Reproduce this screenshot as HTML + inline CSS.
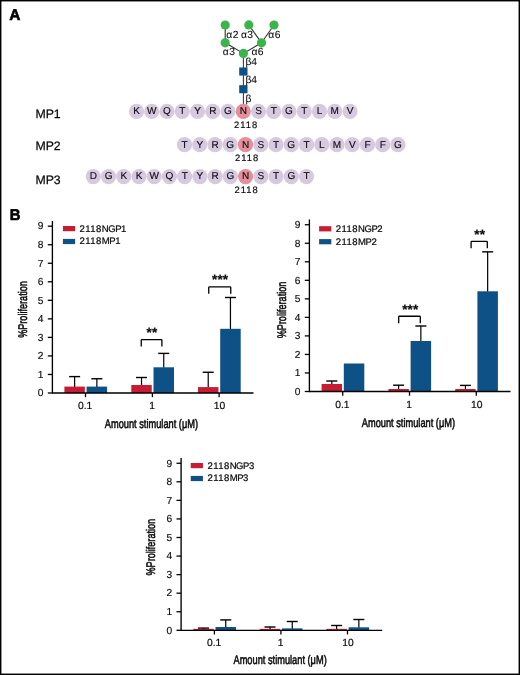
<!DOCTYPE html>
<html lang="en"><head><meta charset="utf-8"><title>Figure</title>
<style>
html,body{margin:0;padding:0;background:#fff;}
body{width:520px;height:675px;overflow:hidden;}
svg{display:block;}
text{font-family:"Liberation Sans",sans-serif;text-rendering:geometricPrecision;fill:#0a0a0a;stroke:#0a0a0a;stroke-width:0.3px;stroke-linejoin:round;}
.aa{font-size:10px;text-anchor:middle;stroke-width:0.12px;}
.num{font-size:9.4px;text-anchor:middle;letter-spacing:1px;stroke-width:0.18px;}
.gl{font-size:10.3px;stroke-width:0.08px;}
.mp{font-size:12.3px;stroke-width:0.25px;}
.pl{font-size:15.5px;font-weight:bold;fill:#000;stroke:#000;stroke-width:0.6px;}
.tk{font-size:10.2px;text-anchor:end;stroke-width:0.15px;}
.xt{font-size:10.3px;text-anchor:middle;stroke-width:0.2px;}
.lg{font-size:9.5px;stroke-width:0.22px;}
.ax{font-size:12.5px;text-anchor:middle;stroke-width:0.55px;}
.st{font-size:13.5px;text-anchor:middle;font-weight:bold;stroke-width:0.2px;letter-spacing:0.15px;}
</style></head><body>
<svg width="520" height="675" viewBox="0 0 520 675">
<rect x="0" y="0" width="520" height="675" fill="#fff"/>
<rect x="0.72" y="0.72" width="518.56" height="673.56" fill="none" stroke="#000" stroke-width="1.44"/>
<text class="pl" transform="translate(9.35 20.2) scale(1 1)">A</text>
<text class="pl" transform="translate(9.8 219.8) scale(0.96 1)">B</text>
<line x1="225.2" y1="25" x2="225.2" y2="42.8" stroke="#2a2a2a" stroke-width="1.05"/>
<line x1="225.2" y1="42.8" x2="243.4" y2="53.4" stroke="#2a2a2a" stroke-width="1.05"/>
<line x1="243.4" y1="53.4" x2="261.5" y2="42.8" stroke="#2a2a2a" stroke-width="1.05"/>
<line x1="261.5" y1="42.8" x2="248.8" y2="24.9" stroke="#2a2a2a" stroke-width="1.05"/>
<line x1="261.5" y1="42.8" x2="274" y2="25" stroke="#2a2a2a" stroke-width="1.05"/>
<line x1="243.4" y1="53.1" x2="243.4" y2="111" stroke="#333" stroke-width="1.05"/>
<circle cx="225.2" cy="25" r="4.6" fill="#3ab54a"/>
<circle cx="248.8" cy="24.9" r="4.6" fill="#3ab54a"/>
<circle cx="274" cy="25" r="4.6" fill="#3ab54a"/>
<circle cx="225.2" cy="42.8" r="4.6" fill="#3ab54a"/>
<circle cx="261.5" cy="42.8" r="4.6" fill="#3ab54a"/>
<circle cx="243.4" cy="53.4" r="4.6" fill="#3ab54a"/>
<rect x="239.2" y="67.45" width="8.3" height="8.1" fill="#0e5186"/>
<rect x="239.2" y="85.15" width="8.3" height="8.1" fill="#0e5186"/>
<text class="gl" x="226.3" y="37.7" letter-spacing="0.5">α2</text>
<text class="gl" x="240.9" y="37.7" letter-spacing="0.5">α3</text>
<text class="gl" x="268.3" y="37.7" letter-spacing="0.5">α6</text>
<text class="gl" x="222.7" y="55.3" letter-spacing="0.5">α3</text>
<text class="gl" x="251.4" y="55.3" letter-spacing="0.5">α6</text>
<text class="gl" x="245.4" y="65">β4</text>
<text class="gl" x="245.4" y="82.8">β4</text>
<text class="gl" x="245.4" y="101.5">β</text>
<text class="mp" x="35.4" y="118.2">MP1</text>
<circle cx="136.5" cy="111.4" r="7.6" fill="#d6c9e0"/>
<circle cx="151.75" cy="111.4" r="7.6" fill="#d6c9e0"/>
<circle cx="167" cy="111.4" r="7.6" fill="#d6c9e0"/>
<circle cx="182.25" cy="111.4" r="7.6" fill="#d6c9e0"/>
<circle cx="197.5" cy="111.4" r="7.6" fill="#d6c9e0"/>
<circle cx="212.75" cy="111.4" r="7.6" fill="#d6c9e0"/>
<circle cx="228" cy="111.4" r="7.6" fill="#d6c9e0"/>
<circle cx="243.25" cy="111.4" r="7.6" fill="#e58f9b"/>
<circle cx="258.5" cy="111.4" r="7.6" fill="#d6c9e0"/>
<circle cx="273.75" cy="111.4" r="7.6" fill="#d6c9e0"/>
<circle cx="289" cy="111.4" r="7.6" fill="#d6c9e0"/>
<circle cx="304.25" cy="111.4" r="7.6" fill="#d6c9e0"/>
<circle cx="319.5" cy="111.4" r="7.6" fill="#d6c9e0"/>
<circle cx="334.75" cy="111.4" r="7.6" fill="#d6c9e0"/>
<circle cx="350" cy="111.4" r="7.6" fill="#d6c9e0"/>
<text class="aa" x="136.5" y="114.3">K</text>
<text class="aa" x="151.75" y="114.3">W</text>
<text class="aa" x="167" y="114.3">Q</text>
<text class="aa" x="182.25" y="114.3">T</text>
<text class="aa" x="197.5" y="114.3">Y</text>
<text class="aa" x="212.75" y="114.3">R</text>
<text class="aa" x="228" y="114.3">G</text>
<text class="aa" x="243.25" y="114.3">N</text>
<text class="aa" x="258.5" y="114.3">S</text>
<text class="aa" x="273.75" y="114.3">T</text>
<text class="aa" x="289" y="114.3">G</text>
<text class="aa" x="304.25" y="114.3">T</text>
<text class="aa" x="319.5" y="114.3">L</text>
<text class="aa" x="334.75" y="114.3">M</text>
<text class="aa" x="350" y="114.3">V</text>
<text class="num" x="246.1" y="128.4">2118</text>
<text class="mp" x="35.4" y="149.8">MP2</text>
<circle cx="184.5" cy="144.7" r="7.6" fill="#d6c9e0"/>
<circle cx="199.75" cy="144.7" r="7.6" fill="#d6c9e0"/>
<circle cx="215" cy="144.7" r="7.6" fill="#d6c9e0"/>
<circle cx="230.25" cy="144.7" r="7.6" fill="#d6c9e0"/>
<circle cx="245.5" cy="144.7" r="7.6" fill="#e58f9b"/>
<circle cx="260.75" cy="144.7" r="7.6" fill="#d6c9e0"/>
<circle cx="276" cy="144.7" r="7.6" fill="#d6c9e0"/>
<circle cx="291.25" cy="144.7" r="7.6" fill="#d6c9e0"/>
<circle cx="306.5" cy="144.7" r="7.6" fill="#d6c9e0"/>
<circle cx="321.75" cy="144.7" r="7.6" fill="#d6c9e0"/>
<circle cx="337" cy="144.7" r="7.6" fill="#d6c9e0"/>
<circle cx="352.25" cy="144.7" r="7.6" fill="#d6c9e0"/>
<circle cx="367.5" cy="144.7" r="7.6" fill="#d6c9e0"/>
<circle cx="382.75" cy="144.7" r="7.6" fill="#d6c9e0"/>
<circle cx="398" cy="144.7" r="7.6" fill="#d6c9e0"/>
<text class="aa" x="184.5" y="147.6">T</text>
<text class="aa" x="199.75" y="147.6">Y</text>
<text class="aa" x="215" y="147.6">R</text>
<text class="aa" x="230.25" y="147.6">G</text>
<text class="aa" x="245.5" y="147.6">N</text>
<text class="aa" x="260.75" y="147.6">S</text>
<text class="aa" x="276" y="147.6">T</text>
<text class="aa" x="291.25" y="147.6">G</text>
<text class="aa" x="306.5" y="147.6">T</text>
<text class="aa" x="321.75" y="147.6">L</text>
<text class="aa" x="337" y="147.6">M</text>
<text class="aa" x="352.25" y="147.6">V</text>
<text class="aa" x="367.5" y="147.6">F</text>
<text class="aa" x="382.75" y="147.6">F</text>
<text class="aa" x="398" y="147.6">G</text>
<text class="num" x="247.1" y="161.3">2118</text>
<text class="mp" x="35.4" y="183.5">MP3</text>
<circle cx="93.3" cy="176.55" r="7.6" fill="#d6c9e0"/>
<circle cx="108.53" cy="176.55" r="7.6" fill="#d6c9e0"/>
<circle cx="123.76" cy="176.55" r="7.6" fill="#d6c9e0"/>
<circle cx="138.99" cy="176.55" r="7.6" fill="#d6c9e0"/>
<circle cx="154.22" cy="176.55" r="7.6" fill="#d6c9e0"/>
<circle cx="169.45" cy="176.55" r="7.6" fill="#d6c9e0"/>
<circle cx="184.68" cy="176.55" r="7.6" fill="#d6c9e0"/>
<circle cx="199.91" cy="176.55" r="7.6" fill="#d6c9e0"/>
<circle cx="215.14" cy="176.55" r="7.6" fill="#d6c9e0"/>
<circle cx="230.37" cy="176.55" r="7.6" fill="#d6c9e0"/>
<circle cx="245.6" cy="176.55" r="7.6" fill="#e58f9b"/>
<circle cx="260.83" cy="176.55" r="7.6" fill="#d6c9e0"/>
<circle cx="276.06" cy="176.55" r="7.6" fill="#d6c9e0"/>
<circle cx="291.29" cy="176.55" r="7.6" fill="#d6c9e0"/>
<circle cx="306.52" cy="176.55" r="7.6" fill="#d6c9e0"/>
<text class="aa" x="93.3" y="179.45">D</text>
<text class="aa" x="108.53" y="179.45">G</text>
<text class="aa" x="123.76" y="179.45">K</text>
<text class="aa" x="138.99" y="179.45">K</text>
<text class="aa" x="154.22" y="179.45">W</text>
<text class="aa" x="169.45" y="179.45">Q</text>
<text class="aa" x="184.68" y="179.45">T</text>
<text class="aa" x="199.91" y="179.45">Y</text>
<text class="aa" x="215.14" y="179.45">R</text>
<text class="aa" x="230.37" y="179.45">G</text>
<text class="aa" x="245.6" y="179.45">N</text>
<text class="aa" x="260.83" y="179.45">S</text>
<text class="aa" x="276.06" y="179.45">T</text>
<text class="aa" x="291.29" y="179.45">G</text>
<text class="aa" x="306.52" y="179.45">T</text>
<text class="num" x="246.7" y="193.3">2118</text>
<line x1="74.62" y1="387.1" x2="74.62" y2="376.6" stroke="#000" stroke-width="1.2"/>
<line x1="69.12" y1="376.6" x2="80.12" y2="376.6" stroke="#000" stroke-width="1.4"/>
<rect x="64.4" y="386.6" width="20.45" height="6.4" fill="#c81c32"/>
<line x1="96.85" y1="387.1" x2="96.85" y2="378.75" stroke="#000" stroke-width="1.2"/>
<line x1="91.35" y1="378.75" x2="102.35" y2="378.75" stroke="#000" stroke-width="1.4"/>
<rect x="86.6" y="386.6" width="20.5" height="6.4" fill="#0e5186"/>
<line x1="141.53" y1="385.5" x2="141.53" y2="377.5" stroke="#000" stroke-width="1.2"/>
<line x1="136.03" y1="377.5" x2="147.03" y2="377.5" stroke="#000" stroke-width="1.4"/>
<rect x="131.3" y="385" width="20.45" height="8" fill="#c81c32"/>
<line x1="163.75" y1="367.8" x2="163.75" y2="353.4" stroke="#000" stroke-width="1.2"/>
<line x1="158.25" y1="353.4" x2="169.25" y2="353.4" stroke="#000" stroke-width="1.4"/>
<rect x="153.5" y="367.3" width="20.5" height="25.7" fill="#0e5186"/>
<line x1="208.22" y1="387.6" x2="208.22" y2="372.25" stroke="#000" stroke-width="1.2"/>
<line x1="202.72" y1="372.25" x2="213.72" y2="372.25" stroke="#000" stroke-width="1.4"/>
<rect x="198" y="387.1" width="20.45" height="5.9" fill="#c81c32"/>
<line x1="230.45" y1="329.3" x2="230.45" y2="297.5" stroke="#000" stroke-width="1.2"/>
<line x1="224.95" y1="297.5" x2="235.95" y2="297.5" stroke="#000" stroke-width="1.4"/>
<rect x="220.2" y="328.8" width="20.5" height="64.2" fill="#0e5186"/>
<path d="M52.4 220.88 V393 H253.5" fill="none" stroke="#000" stroke-width="1.35"/>
<line x1="47.8" y1="393" x2="52.4" y2="393" stroke="#000" stroke-width="1.3"/>
<text class="tk" x="43.5" y="396.3">0</text>
<line x1="47.8" y1="374.46" x2="52.4" y2="374.46" stroke="#000" stroke-width="1.3"/>
<text class="tk" x="43.5" y="377.76">1</text>
<line x1="47.8" y1="355.93" x2="52.4" y2="355.93" stroke="#000" stroke-width="1.3"/>
<text class="tk" x="43.5" y="359.23">2</text>
<line x1="47.8" y1="337.39" x2="52.4" y2="337.39" stroke="#000" stroke-width="1.3"/>
<text class="tk" x="43.5" y="340.69">3</text>
<line x1="47.8" y1="318.86" x2="52.4" y2="318.86" stroke="#000" stroke-width="1.3"/>
<text class="tk" x="43.5" y="322.16">4</text>
<line x1="47.8" y1="300.32" x2="52.4" y2="300.32" stroke="#000" stroke-width="1.3"/>
<text class="tk" x="43.5" y="303.62">5</text>
<line x1="47.8" y1="281.79" x2="52.4" y2="281.79" stroke="#000" stroke-width="1.3"/>
<text class="tk" x="43.5" y="285.09">6</text>
<line x1="47.8" y1="263.25" x2="52.4" y2="263.25" stroke="#000" stroke-width="1.3"/>
<text class="tk" x="43.5" y="266.56">7</text>
<line x1="47.8" y1="244.72" x2="52.4" y2="244.72" stroke="#000" stroke-width="1.3"/>
<text class="tk" x="43.5" y="248.02">8</text>
<line x1="47.8" y1="226.19" x2="52.4" y2="226.19" stroke="#000" stroke-width="1.3"/>
<text class="tk" x="43.5" y="229.49">9</text>
<line x1="85.5" y1="393" x2="85.5" y2="397.2" stroke="#000" stroke-width="1.3"/>
<text class="xt" x="85.2" y="409">0.1</text>
<line x1="152.4" y1="393" x2="152.4" y2="397.2" stroke="#000" stroke-width="1.3"/>
<text class="xt" x="152.1" y="409">1</text>
<line x1="219.1" y1="393" x2="219.1" y2="397.2" stroke="#000" stroke-width="1.3"/>
<text class="xt" x="219.5" y="409">10</text>
<text class="ax" transform="translate(151.4 428) scale(0.74 1)">Amount stimulant (μM)</text>
<text class="ax" transform="translate(27.1 309.5) rotate(-90) scale(0.728 1)">%Proliferation</text>
<rect x="62.9" y="226" width="12.2" height="5.2" fill="#c81c32"/>
<rect x="62.9" y="238.9" width="12.2" height="5.2" fill="#0e5186"/>
<text class="lg" x="79.6" y="231.6"><tspan letter-spacing="0.45">2118</tspan><tspan letter-spacing="-0.45">NGP1</tspan></text>
<text class="lg" x="79.6" y="244.3"><tspan letter-spacing="0.45">2118</tspan><tspan letter-spacing="-0.45">MP1</tspan></text>
<path d="M141.25 346.5 V340.3 Q141.25 339.6 141.95 339.6 H161.2 Q161.9 339.6 161.9 340.3 V346.5" fill="none" stroke="#000" stroke-width="1.3"/>
<text class="st" x="152" y="337">**</text>
<path d="M208.75 293.8 V287.6 Q208.75 286.9 209.45 286.9 H230.05 Q230.75 286.9 230.75 287.6 V293.8" fill="none" stroke="#000" stroke-width="1.3"/>
<text class="st" x="220.1" y="283.7">***</text>
<line x1="331.82" y1="384.5" x2="331.82" y2="381" stroke="#000" stroke-width="1.2"/>
<line x1="326.32" y1="381" x2="337.32" y2="381" stroke="#000" stroke-width="1.4"/>
<rect x="321.6" y="384" width="20.45" height="7.5" fill="#c81c32"/>
<rect x="343.8" y="363.5" width="20.5" height="28" fill="#0e5186"/>
<line x1="398.62" y1="389.5" x2="398.62" y2="385.2" stroke="#000" stroke-width="1.2"/>
<line x1="393.12" y1="385.2" x2="404.12" y2="385.2" stroke="#000" stroke-width="1.4"/>
<rect x="388.4" y="389" width="20.45" height="2.5" fill="#c81c32"/>
<line x1="420.85" y1="341.5" x2="420.85" y2="326" stroke="#000" stroke-width="1.2"/>
<line x1="415.35" y1="326" x2="426.35" y2="326" stroke="#000" stroke-width="1.4"/>
<rect x="410.6" y="341" width="20.5" height="50.5" fill="#0e5186"/>
<line x1="465.43" y1="389.5" x2="465.43" y2="385.4" stroke="#000" stroke-width="1.2"/>
<line x1="459.93" y1="385.4" x2="470.93" y2="385.4" stroke="#000" stroke-width="1.4"/>
<rect x="455.2" y="389" width="20.45" height="2.5" fill="#c81c32"/>
<line x1="487.65" y1="291.8" x2="487.65" y2="251.85" stroke="#000" stroke-width="1.2"/>
<line x1="482.15" y1="251.85" x2="493.15" y2="251.85" stroke="#000" stroke-width="1.4"/>
<rect x="477.4" y="291.3" width="20.5" height="100.2" fill="#0e5186"/>
<path d="M309.4 219.43 V391.5 H510.5" fill="none" stroke="#000" stroke-width="1.35"/>
<line x1="304.8" y1="391.5" x2="309.4" y2="391.5" stroke="#000" stroke-width="1.3"/>
<text class="tk" x="300.5" y="394.8">0</text>
<line x1="304.8" y1="372.97" x2="309.4" y2="372.97" stroke="#000" stroke-width="1.3"/>
<text class="tk" x="300.5" y="376.27">1</text>
<line x1="304.8" y1="354.44" x2="309.4" y2="354.44" stroke="#000" stroke-width="1.3"/>
<text class="tk" x="300.5" y="357.74">2</text>
<line x1="304.8" y1="335.91" x2="309.4" y2="335.91" stroke="#000" stroke-width="1.3"/>
<text class="tk" x="300.5" y="339.21">3</text>
<line x1="304.8" y1="317.38" x2="309.4" y2="317.38" stroke="#000" stroke-width="1.3"/>
<text class="tk" x="300.5" y="320.68">4</text>
<line x1="304.8" y1="298.85" x2="309.4" y2="298.85" stroke="#000" stroke-width="1.3"/>
<text class="tk" x="300.5" y="302.15">5</text>
<line x1="304.8" y1="280.32" x2="309.4" y2="280.32" stroke="#000" stroke-width="1.3"/>
<text class="tk" x="300.5" y="283.62">6</text>
<line x1="304.8" y1="261.79" x2="309.4" y2="261.79" stroke="#000" stroke-width="1.3"/>
<text class="tk" x="300.5" y="265.09">7</text>
<line x1="304.8" y1="243.26" x2="309.4" y2="243.26" stroke="#000" stroke-width="1.3"/>
<text class="tk" x="300.5" y="246.56">8</text>
<line x1="304.8" y1="224.73" x2="309.4" y2="224.73" stroke="#000" stroke-width="1.3"/>
<text class="tk" x="300.5" y="228.03">9</text>
<line x1="342.7" y1="391.5" x2="342.7" y2="395.7" stroke="#000" stroke-width="1.3"/>
<text class="xt" x="342.4" y="408.3">0.1</text>
<line x1="409.5" y1="391.5" x2="409.5" y2="395.7" stroke="#000" stroke-width="1.3"/>
<text class="xt" x="409.2" y="408.3">1</text>
<line x1="476.3" y1="391.5" x2="476.3" y2="395.7" stroke="#000" stroke-width="1.3"/>
<text class="xt" x="476.7" y="408.3">10</text>
<text class="ax" transform="translate(408.4 426.5) scale(0.74 1)">Amount stimulant (μM)</text>
<text class="ax" transform="translate(286.1 310) rotate(-90) scale(0.728 1)">%Proliferation</text>
<rect x="319.1" y="226.2" width="12.2" height="5.2" fill="#c81c32"/>
<rect x="319.1" y="239.1" width="12.2" height="5.2" fill="#0e5186"/>
<text class="lg" x="335.8" y="231.8"><tspan letter-spacing="0.45">2118</tspan><tspan letter-spacing="-0.45">NGP2</tspan></text>
<text class="lg" x="335.8" y="244.5"><tspan letter-spacing="0.45">2118</tspan><tspan letter-spacing="-0.45">MP2</tspan></text>
<path d="M398.7 323.15 V316.95 Q398.7 316.25 399.4 316.25 H419.6 Q420.3 316.25 420.3 316.95 V323.15" fill="none" stroke="#000" stroke-width="1.3"/>
<text class="st" x="410.3" y="314">***</text>
<path d="M471.1 248.25 V242.05 Q471.1 241.35 471.8 241.35 H486.6 Q487.3 241.35 487.3 242.05 V248.25" fill="none" stroke="#000" stroke-width="1.3"/>
<text class="st" x="479.7" y="238.6">**</text>
<line x1="203.53" y1="629.35" x2="203.53" y2="628.1" stroke="#000" stroke-width="1.2"/>
<line x1="198.03" y1="628.1" x2="209.03" y2="628.1" stroke="#000" stroke-width="1.4"/>
<rect x="193.3" y="628.85" width="20.45" height="1.45" fill="#c81c32"/>
<line x1="225.75" y1="627.5" x2="225.75" y2="619.9" stroke="#000" stroke-width="1.2"/>
<line x1="220.25" y1="619.9" x2="231.25" y2="619.9" stroke="#000" stroke-width="1.4"/>
<rect x="215.5" y="627" width="20.5" height="3.3" fill="#0e5186"/>
<line x1="270.02" y1="629.35" x2="270.02" y2="627" stroke="#000" stroke-width="1.2"/>
<line x1="264.52" y1="627" x2="275.52" y2="627" stroke="#000" stroke-width="1.4"/>
<rect x="259.8" y="628.85" width="20.45" height="1.45" fill="#c81c32"/>
<line x1="292.25" y1="628.9" x2="292.25" y2="621.5" stroke="#000" stroke-width="1.2"/>
<line x1="286.75" y1="621.5" x2="297.75" y2="621.5" stroke="#000" stroke-width="1.4"/>
<rect x="282" y="628.4" width="20.5" height="1.9" fill="#0e5186"/>
<line x1="336.62" y1="629.35" x2="336.62" y2="625.5" stroke="#000" stroke-width="1.2"/>
<line x1="331.12" y1="625.5" x2="342.12" y2="625.5" stroke="#000" stroke-width="1.4"/>
<rect x="326.4" y="628.85" width="20.45" height="1.45" fill="#c81c32"/>
<line x1="358.85" y1="627.8" x2="358.85" y2="619.5" stroke="#000" stroke-width="1.2"/>
<line x1="353.35" y1="619.5" x2="364.35" y2="619.5" stroke="#000" stroke-width="1.4"/>
<rect x="348.6" y="627.3" width="20.5" height="3" fill="#0e5186"/>
<path d="M181.1 457.96 V630.3 H382.2" fill="none" stroke="#000" stroke-width="1.35"/>
<line x1="176.5" y1="630.3" x2="181.1" y2="630.3" stroke="#000" stroke-width="1.3"/>
<text class="tk" x="172.2" y="633.6">0</text>
<line x1="176.5" y1="611.74" x2="181.1" y2="611.74" stroke="#000" stroke-width="1.3"/>
<text class="tk" x="172.2" y="615.04">1</text>
<line x1="176.5" y1="593.18" x2="181.1" y2="593.18" stroke="#000" stroke-width="1.3"/>
<text class="tk" x="172.2" y="596.48">2</text>
<line x1="176.5" y1="574.62" x2="181.1" y2="574.62" stroke="#000" stroke-width="1.3"/>
<text class="tk" x="172.2" y="577.92">3</text>
<line x1="176.5" y1="556.06" x2="181.1" y2="556.06" stroke="#000" stroke-width="1.3"/>
<text class="tk" x="172.2" y="559.36">4</text>
<line x1="176.5" y1="537.5" x2="181.1" y2="537.5" stroke="#000" stroke-width="1.3"/>
<text class="tk" x="172.2" y="540.8">5</text>
<line x1="176.5" y1="518.94" x2="181.1" y2="518.94" stroke="#000" stroke-width="1.3"/>
<text class="tk" x="172.2" y="522.24">6</text>
<line x1="176.5" y1="500.38" x2="181.1" y2="500.38" stroke="#000" stroke-width="1.3"/>
<text class="tk" x="172.2" y="503.68">7</text>
<line x1="176.5" y1="481.82" x2="181.1" y2="481.82" stroke="#000" stroke-width="1.3"/>
<text class="tk" x="172.2" y="485.12">8</text>
<line x1="176.5" y1="463.26" x2="181.1" y2="463.26" stroke="#000" stroke-width="1.3"/>
<text class="tk" x="172.2" y="466.56">9</text>
<line x1="214.4" y1="630.3" x2="214.4" y2="634.5" stroke="#000" stroke-width="1.3"/>
<text class="xt" x="214.1" y="645.9">0.1</text>
<line x1="280.9" y1="630.3" x2="280.9" y2="634.5" stroke="#000" stroke-width="1.3"/>
<text class="xt" x="280.6" y="645.9">1</text>
<line x1="347.5" y1="630.3" x2="347.5" y2="634.5" stroke="#000" stroke-width="1.3"/>
<text class="xt" x="347.9" y="645.9">10</text>
<text class="ax" transform="translate(280.1 664.1) scale(0.74 1)">Amount stimulant (μM)</text>
<text class="ax" transform="translate(155.3 547.2) rotate(-90) scale(0.728 1)">%Proliferation</text>
<rect x="190.75" y="463" width="12.2" height="5.2" fill="#c81c32"/>
<rect x="190.75" y="475.9" width="12.2" height="5.2" fill="#0e5186"/>
<text class="lg" x="207.45" y="468.6"><tspan letter-spacing="0.45">2118</tspan><tspan letter-spacing="-0.45">NGP3</tspan></text>
<text class="lg" x="207.45" y="481.3"><tspan letter-spacing="0.45">2118</tspan><tspan letter-spacing="-0.45">MP3</tspan></text>
</svg>
</body></html>
